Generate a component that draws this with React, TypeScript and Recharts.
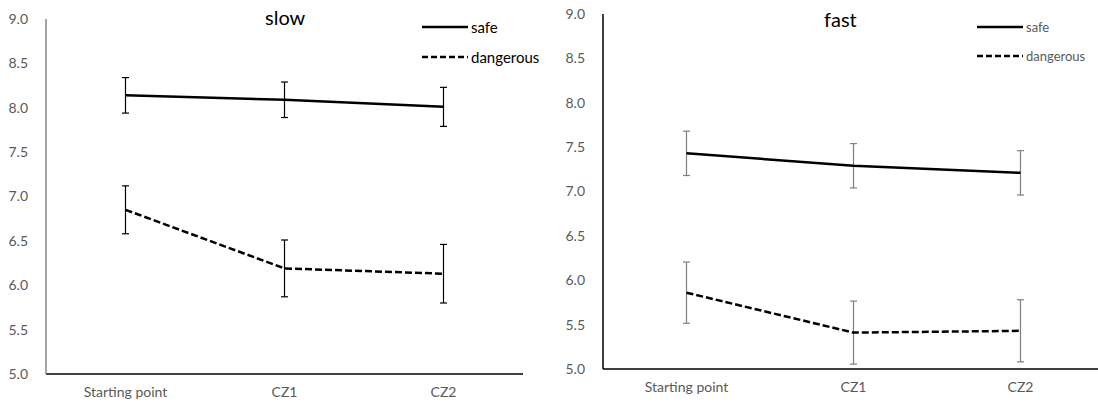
import { LineChart, Line, XAxis, YAxis, ErrorBar, Legend } from "recharts";

const categories = ["Starting point", "CZ1", "CZ2"];
const yTicks = [5.0, 5.5, 6.0, 6.5, 7.0, 7.5, 8.0, 8.5, 9.0];

// slow
const slowSafe = [8.14, 8.09, 8.01];
const slowSafeErr = [0.2, 0.2, 0.22];
const slowDangerous = [6.85, 6.19, 6.13];
const slowDangerousErr = [0.27, 0.32, 0.33];

// fast
const fastSafe = [7.43, 7.29, 7.21];
const fastSafeErr = [0.25, 0.25, 0.25];
const fastDangerous = [5.86, 5.41, 5.43];
const fastDangerousErr = [0.345, 0.355, 0.35];

const FONT = "Lato, 'Open Sans', sans-serif";
const DASH = "7 3";
const LEGEND_ORDER = ["safe", "dangerous"];

function buildRows(safe: number[], safeErr: number[], dang: number[], dangErr: number[]) {
  return categories.map((c, i) => ({
    cat: c,
    safe: safe[i],
    safeErr: safeErr[i],
    dangerous: dang[i],
    dangerousErr: dangErr[i],
  }));
}

const slowRows = buildRows(slowSafe, slowSafeErr, slowDangerous, slowDangerousErr);
const fastRows = buildRows(fastSafe, fastSafeErr, fastDangerous, fastDangerousErr);

function LegendBox({ payload, fontSize, color, gap }: any) {
  const items = [...(payload ?? [])].sort(
    (a: any, b: any) => LEGEND_ORDER.indexOf(a.value) - LEGEND_ORDER.indexOf(b.value)
  );
  return (
    <div style={{ fontFamily: FONT }}>
      {items.map((p: any, i: number) => (
        <div key={i} style={{ display: "flex", alignItems: "center", height: gap }}>
          <svg width={48} height={6} style={{ marginRight: 2 }}>
            <line x1={1} y1={3} x2={47} y2={3} stroke="#000" strokeWidth={2.5}
              strokeDasharray={p.value === "dangerous" ? "6 3" : undefined} />
          </svg>
          <span style={{ fontSize, color }}>{p.value}</span>
        </div>
      ))}
    </div>
  );
}

interface PanelProps {
  rows: any[];
  title: string;
  width: number;
  margin: { top: number; right: number; bottom: number; left: number };
  yAxisWidth: number;
  yAxisColor: string;
  errColor: string;
  legendFont: number;
  legendColor: string;
  legendGap: number;
  legendPos: { left: number; top: number };
  titlePos: { left: number; top: number };
}

function Panel(p: PanelProps) {
  const tick = { fontSize: 14, fill: "#595959", fontFamily: FONT };
  return (
    <div style={{ position: "relative", width: p.width, height: 404 }}>
      <LineChart width={p.width} height={404} data={p.rows} margin={p.margin}>
        <XAxis dataKey="cat" scale="band" tick={tick} tickLine={false} tickMargin={7} height={20}
          axisLine={{ stroke: "#000", strokeWidth: 1.5 }} interval={0} />
        <YAxis domain={[5, 9]} ticks={yTicks} tick={tick} tickLine={false} width={p.yAxisWidth}
          tickMargin={12} tickFormatter={(v: number) => v.toFixed(1)}
          axisLine={{ stroke: p.yAxisColor, strokeWidth: 1.5 }} allowDataOverflow />
        {/* centred/middle so the legend takes no room from the plot */}
        <Legend verticalAlign="middle" align="center" layout="vertical"
          wrapperStyle={{ left: p.legendPos.left, top: p.legendPos.top, width: 150 }}
          content={(props: any) => (
            <LegendBox payload={props.payload} fontSize={p.legendFont} color={p.legendColor} gap={p.legendGap} />
          )} />
        <Line dataKey="safe" name="safe" stroke="#000" strokeWidth={2.5} dot={false} isAnimationActive={false}>
          <ErrorBar dataKey="safeErr" direction="y" width={3.5} stroke={p.errColor} strokeWidth={1.2} />
        </Line>
        <Line dataKey="dangerous" name="dangerous" stroke="#000" strokeWidth={2.5} strokeDasharray={DASH}
          dot={false} isAnimationActive={false}>
          <ErrorBar dataKey="dangerousErr" direction="y" width={3.5} stroke={p.errColor} strokeWidth={1.2} />
        </Line>
      </LineChart>
      <div style={{ position: "absolute", left: p.titlePos.left, top: p.titlePos.top, fontFamily: FONT,
        fontSize: 20, fontWeight: 400, color: "#000", whiteSpace: "nowrap" }}>{p.title}</div>
    </div>
  );
}

export default function App() {
  return (
    <div style={{ position: "absolute", left: 0, top: 0, width: 1098, height: 404, overflow: "hidden", background: "#fff" }}>
      <div style={{ position: "absolute", left: 0, top: 0 }}>
        <Panel rows={slowRows} title="slow" width={540}
          margin={{ top: 19, right: 17, bottom: 10, left: 0 }} yAxisWidth={46}
          yAxisColor="#868686" errColor="#000" legendFont={15} legendColor="#000" legendGap={30}
          legendPos={{ left: 421, top: 12 }} titlePos={{ left: 265, top: 5 }} />
      </div>
      <div style={{ position: "absolute", left: 555, top: 0 }}>
        <Panel rows={fastRows} title="fast" width={560}
          margin={{ top: 14, right: 11, bottom: 15, left: 0 }} yAxisWidth={48}
          yAxisColor="#000" errColor="#7f7f7f" legendFont={13} legendColor="#595959" legendGap={29}
          legendPos={{ left: 421, top: 12 }} titlePos={{ left: 269, top: 7 }} />
      </div>
    </div>
  );
}
